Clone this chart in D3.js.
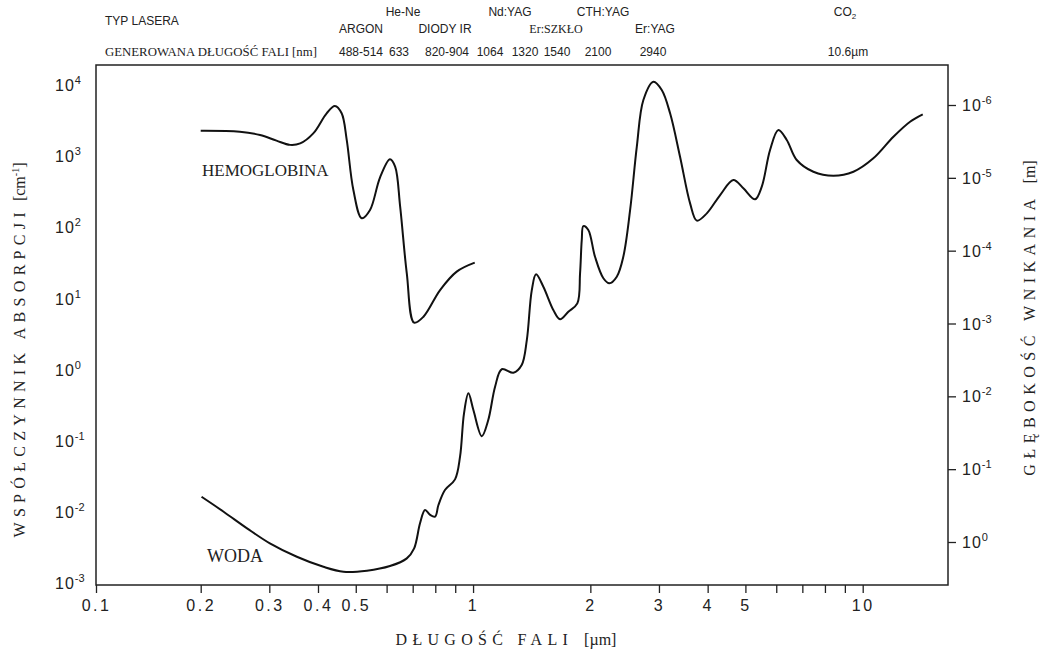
<!DOCTYPE html>
<html>
<head>
<meta charset="utf-8">
<script src="https://cdn.jsdelivr.net/npm/d3@7/dist/d3.min.js"></script>
<style>
  body { margin: 0; background: #fff; }
  svg { display: block; }
</style>
</head>
<body>
<svg id="chart" width="1044" height="650"></svg>
<script>
"use strict";

// wavelength [um] / absorption coefficient [cm^-1]
const hbWavelength = [0.2, 0.252, 0.284, 0.313, 0.339, 0.36, 0.389, 0.421, 0.442, 0.46, 0.474, 0.493,
  0.518, 0.544, 0.577, 0.612, 0.631, 0.65, 0.676, 0.706, 0.746, 0.823, 0.908, 1.01];
const hbAbsorption = [2280, 2210, 1980, 1650, 1440, 1510, 2090, 4000, 5070, 4000, 1690, 334,
  134, 175, 500, 903, 711, 195, 22.5, 4.56, 5.53, 13.1, 23.8, 31.8];

const waterWavelength = [0.201, 0.229, 0.263, 0.301, 0.353, 0.413, 0.465, 0.534, 0.612, 0.676, 0.706,
  0.731, 0.753, 0.776, 0.799, 0.815, 0.847, 0.899, 0.926, 0.948, 0.973, 1.002, 1.053, 1.094, 1.139,
  1.185, 1.269, 1.333, 1.374, 1.415, 1.451, 1.515, 1.607, 1.672, 1.756, 1.852, 1.882, 1.901, 1.919,
  1.976, 2.056, 2.16, 2.238, 2.338, 2.43, 2.53, 2.632, 2.736, 2.903, 3.05, 3.204, 3.398, 3.606,
  3.752, 3.98, 4.306, 4.656, 4.94, 5.294, 5.508, 5.784, 6.075, 6.384, 6.771, 7.472, 8.408, 9.466,
  10.65, 11.99, 13.23, 14.26];
const waterAbsorption = [0.0163, 0.01005, 0.00587, 0.00361, 0.00234, 0.00169, 0.00144, 0.00149,
  0.00173, 0.00222, 0.00307, 0.0069, 0.0106, 0.00904, 0.00855, 0.01247, 0.0203, 0.0286, 0.0596,
  0.243, 0.463, 0.27, 0.116, 0.195, 0.574, 1.01, 0.904, 1.16, 2.6, 13.1, 21.8, 14.6, 6.87, 5.08,
  6.5, 8.53, 22.5, 66.2, 104, 91.6, 38.5, 19.2, 16.3, 20.2, 38.5, 175, 1358, 6150, 11120, 8510,
  4000, 982, 217, 124, 157, 284, 462, 353, 247, 372, 1219, 2330, 1690, 883, 604, 531, 604, 933,
  1875, 3048, 3873];

const xTicks = [0.1, 0.2, 0.3, 0.4, 0.5, 0.6, 0.7, 0.8, 0.9, 1, 2, 3, 4, 5, 6, 7, 8, 9, 10];
const xTickLabels = ["0.1", "0.2", "0.3", "0.4", "0.5", "", "", "", "", "1", "2", "3", "4", "5", "", "", "", "", "10"];
const leftTicks = [1e-3, 1e-2, 1e-1, 1e0, 1e1, 1e2, 1e3, 1e4];
const leftExponents = ["-3", "-2", "-1", "0", "1", "2", "3", "4"];
const rightTicks = [1e0, 1e-1, 1e-2, 1e-3, 1e-4, 1e-5, 1e-6];
const rightExponents = ["0", "-1", "-2", "-3", "-4", "-5", "-6"];

const laserTop = ["He-Ne", "Nd:YAG", "CTH:YAG", "CO"];
const laserBottom = ["ARGON", "DIODY IR", "Er:SZKŁO", "Er:YAG"];
const laserWaves = ["488-514", "633", "820-904", "1064", "1320", "1540", "2100", "2940", "10.6µm"];

// layout of the header (x centres)
const laserTopX = [403, 510, 603, 845];
const laserBottomX = [361, 445, 556, 655];
const laserWavesX = [361, 399, 447, 490, 525, 557, 598, 653, 848];

const box = { left: 96, right: 948, top: 65, bottom: 585 };
const sans = "'Liberation Sans', Arial, sans-serif";
const serif = "'Liberation Serif', 'Times New Roman', serif";

const svg = d3.select("#chart");

const x = d3.scaleLog().domain([0.1, 0.2, 10]).range([box.left, 200.7, 862.7]);
const yLeft = d3.scaleLog().domain([1e-3, 1e4]).range([583, 85]);
const yRight = d3.scaleLog().domain([1, 1e-6]).range([542, 105]);

// frame
svg.append("rect")
  .attr("x", box.left).attr("y", box.top)
  .attr("width", box.right - box.left).attr("height", box.bottom - box.top)
  .attr("fill", "none").attr("stroke", "#222").attr("stroke-width", 1.5);

// x axis
const xAxis = svg.append("g")
  .attr("transform", "translate(0," + box.bottom + ")")
  .call(d3.axisBottom(x).tickValues(xTicks).tickSize(8).tickPadding(7)
    .tickFormat((d, i) => xTickLabels[i]));
xAxis.select(".domain").remove();
xAxis.selectAll("line").attr("stroke", "#222").attr("stroke-width", 1.3);
xAxis.selectAll("text")
  .attr("font-family", sans).attr("font-size", 16).attr("fill", "#222")
  .attr("letter-spacing", 2.5);

// left axis, labels only
const leftAxis = svg.append("g")
  .attr("transform", "translate(" + box.left + ",0)")
  .call(d3.axisLeft(yLeft).tickValues(leftTicks).tickSize(0));
leftAxis.select(".domain").remove();
leftAxis.selectAll("text")
  .attr("text-anchor", "start").attr("x", -41).attr("dy", "0.35em")
  .attr("font-family", sans).attr("font-size", 16).attr("fill", "#222")
  .text("")
  .each(function(d, i) {
    let t = d3.select(this);
    t.append("tspan").attr("letter-spacing", 1).text("10");
    t.append("tspan").attr("dy", -7).attr("font-size", 11).text(leftExponents[i]);
  });

// right axis
const rightAxis = svg.append("g")
  .attr("transform", "translate(" + box.right + ",0)")
  .call(d3.axisRight(yRight).tickValues(rightTicks).tickSize(8).tickPadding(6));
rightAxis.select(".domain").remove();
rightAxis.selectAll("line").attr("stroke", "#222").attr("stroke-width", 1.3);
rightAxis.selectAll("text")
  .attr("dy", "0.35em")
  .attr("font-family", sans).attr("font-size", 16).attr("fill", "#222")
  .text("")
  .each(function(d, i) {
    let t = d3.select(this);
    t.append("tspan").attr("letter-spacing", 1).text("10");
    t.append("tspan").attr("dy", -7).attr("font-size", 11).text(rightExponents[i]);
  });

// curves
const line = d3.line()
  .x(d => x(d[0]))
  .y(d => yLeft(d[1]))
  .curve(d3.curveCatmullRom.alpha(0.5));

svg.append("path")
  .datum(d3.zip(hbWavelength, hbAbsorption))
  .attr("d", line)
  .attr("fill", "none").attr("stroke", "#111").attr("stroke-width", 2);

svg.append("path")
  .datum(d3.zip(waterWavelength, waterAbsorption))
  .attr("d", line)
  .attr("fill", "none").attr("stroke", "#111").attr("stroke-width", 2);

svg.append("text")
  .attr("x", 202).attr("y", 176)
  .attr("font-family", serif).attr("font-size", 17).attr("fill", "#222")
  .text("HEMOGLOBINA");

svg.append("text")
  .attr("x", 207).attr("y", 562)
  .attr("font-family", serif).attr("font-size", 18).attr("fill", "#222")
  .text("WODA");

// axis titles
svg.append("text")
  .attr("x", 506).attr("y", 645)
  .attr("text-anchor", "middle")
  .attr("font-family", serif).attr("font-size", 16).attr("fill", "#222")
  .call(t => {
    t.append("tspan").attr("letter-spacing", 5.3).text("DŁUGOŚĆ  FALI");
    t.append("tspan").attr("dx", 11).text("[µm]");
  });

svg.append("text")
  .attr("transform", "translate(25,350) rotate(-90)")
  .attr("text-anchor", "middle")
  .attr("font-family", serif).attr("font-size", 16).attr("fill", "#222")
  .call(t => {
    t.append("tspan").attr("letter-spacing", 5.3).text("WSPÓŁCZYNNIK ABSORPCJI");
    t.append("tspan").attr("dx", 6).text("[cm");
    t.append("tspan").attr("dy", -6).attr("font-size", 10).text("-1");
    t.append("tspan").attr("dy", 6).text("]");
  });

svg.append("text")
  .attr("transform", "translate(1035,318) rotate(-90)")
  .attr("text-anchor", "middle")
  .attr("font-family", serif).attr("font-size", 16).attr("fill", "#222")
  .call(t => {
    t.append("tspan").attr("letter-spacing", 5.5).text("GŁĘBOKOŚĆ  WNIKANIA");
    t.append("tspan").attr("dx", 10).text("[m]");
  });

// header
const header = svg.append("g").attr("fill", "#222");

header.append("text")
  .attr("x", 105).attr("y", 25)
  .attr("font-family", sans).attr("font-size", 12)
  .text("TYP LASERA");

header.append("text")
  .attr("x", 105).attr("y", 56)
  .attr("font-family", serif).attr("font-size", 12.8)
  .text("GENEROWANA DŁUGOŚĆ FALI [nm]");

header.selectAll(".top")
  .data(laserTop)
  .join("text")
  .attr("x", (d, i) => laserTopX[i]).attr("y", 16)
  .attr("text-anchor", "middle")
  .attr("font-family", sans).attr("font-size", 12)
  .text(d => d)
  .filter(d => d === "CO")
  .append("tspan").attr("dy", 3).attr("font-size", 8).text("2");

header.selectAll(".bottom")
  .data(laserBottom)
  .join("text")
  .attr("x", (d, i) => laserBottomX[i]).attr("y", 33)
  .attr("text-anchor", "middle")
  .attr("font-family", d => d === "Er:SZKŁO" ? serif : sans)
  .attr("font-size", 12)
  .text(d => d);

header.selectAll(".waves")
  .data(laserWaves)
  .join("text")
  .attr("x", (d, i) => laserWavesX[i]).attr("y", 56)
  .attr("text-anchor", "middle")
  .attr("font-family", sans).attr("font-size", 12)
  .text(d => d);
</script>
</body>
</html>
